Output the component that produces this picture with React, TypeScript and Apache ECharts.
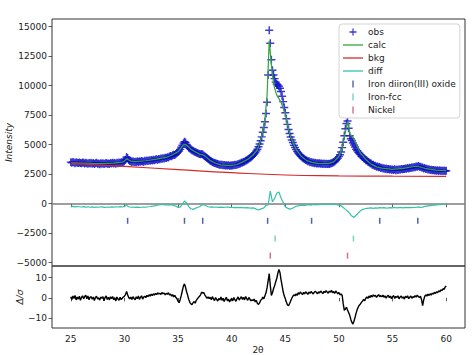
import React, { useEffect, useRef } from 'react';
import * as echarts from 'echarts';

// ---------- data ----------
const OBS_START = 25;
const OBS_STEP = 0.1;
const obs = [
  3520, 3460, 3540, 3480, 3430, 3510, 3470, 3440, 3500, 3450,
  3420, 3490, 3460, 3400, 3470, 3430, 3380, 3450, 3410, 3470,
  3390, 3440, 3370, 3420, 3460, 3380, 3410, 3350, 3430, 3390,
  3420, 3360, 3400, 3450, 3380, 3410, 3370, 3440, 3400, 3460,
  3410, 3450, 3390, 3470, 3430, 3480, 3450, 3520, 3490, 3560,
  3600, 3720, 3950, 3880, 3710, 3620, 3580, 3540, 3590, 3530,
  3560, 3520, 3590, 3540, 3600, 3560, 3620, 3580, 3550, 3630,
  3600, 3650, 3620, 3680, 3640, 3700, 3660, 3720, 3690, 3740,
  3760, 3720, 3790, 3760, 3820, 3800, 3860, 3830, 3900, 3880,
  3940, 3920, 3990, 4040, 4020, 4100, 4150, 4130, 4220, 4290,
  4380, 4460, 4600, 4780, 4960, 5130, 5250, 5180, 5020, 4880,
  4750, 4680, 4590, 4520, 4480, 4420, 4380, 4330, 4290, 4250,
  4220, 4180, 4200, 4160, 4090, 4030, 3960, 3880, 3790, 3720,
  3640, 3590, 3530, 3490, 3450, 3420, 3380, 3360, 3330, 3310,
  3290, 3300, 3260, 3280, 3240, 3260, 3230, 3250, 3220, 3240,
  3230, 3260, 3250, 3290, 3280, 3320, 3350, 3380, 3410, 3460,
  3500, 3540, 3580, 3630, 3690, 3740, 3800, 3870, 3940, 4020,
  4110, 4210, 4320, 4460, 4620, 4830, 5060, 5330, 5660, 6050,
  6450, 6950, 7650, 8600, 10900, 14700, 13600, 12200, 11300, 10900,
  10600, 10300, 10150, 10050, 9950, 9780, 9500, 9100, 8650, 8150,
  7700, 7200, 6720, 6280, 5950, 5650, 5400, 5180, 4960, 4760,
  4580, 4430, 4300, 4180, 4080, 3990, 3900, 3830, 3760, 3700,
  3650, 3590, 3590, 3520, 3530, 3470, 3490, 3430, 3460, 3400,
  3430, 3400, 3420, 3380, 3410, 3370, 3400, 3360, 3390, 3370,
  3380, 3360, 3400, 3420, 3460, 3520, 3580, 3660, 3760, 3860,
  3990, 4150, 4380, 4750, 5200, 5750, 6350, 6800, 7000, 6400,
  5750, 5500, 5350, 5150, 4980, 4800, 4620, 4480, 4360, 4250,
  4160, 4020, 3970, 3850, 3810, 3690, 3660, 3550, 3520, 3420,
  3400, 3310, 3300, 3220, 3220, 3140, 3150, 3080, 3100, 3030,
  3050, 2990, 3010, 2950, 2980, 2920, 2950, 2900, 2920, 2870,
  2900, 2850, 2910, 2840, 2900, 2850, 2920, 2870, 2940, 2920,
  2950, 2930, 2980, 2960, 3020, 2990, 3050, 3020, 3080, 3050,
  3100, 3080, 3150, 3140, 3200, 3140, 3140, 3060, 3060, 2980,
  3020, 2940, 2960, 2890, 2910, 2860, 2880, 2830, 2860, 2810,
  2840, 2790, 2840, 2780, 2830, 2770, 2820, 2770, 2820, 2760,
  2790,
];

const calcX = [
  25, 26, 27, 28, 29, 29.8, 30.0, 30.2, 30.4, 30.7, 31, 32, 33, 34, 34.5,
  35, 35.3, 35.5, 35.6, 35.7, 35.9, 36.2, 36.5, 37, 37.3, 37.5, 38, 38.5, 39, 39.5,
  40, 40.5, 41, 41.5, 42, 42.3, 42.5, 42.7, 42.9, 43.1, 43.3, 43.4, 43.5, 43.6, 43.7,
  43.8, 43.9, 44.0, 44.2, 44.4, 44.6, 44.8, 45.0, 45.2, 45.4, 45.6, 45.8, 46.0, 46.5, 47,
  47.5, 48, 48.5, 49, 49.5, 50, 50.3, 50.5, 50.7, 50.8, 50.9, 51.0, 51.1, 51.3, 51.5,
  51.7, 52, 52.5, 53, 53.5, 54, 55, 56, 57, 57.3, 58, 59, 60,
];
const calc = [
  3470, 3440, 3410, 3400, 3430, 3520, 3600, 3800, 3700, 3580, 3560, 3640, 3780, 3950, 4150,
  4400, 4750, 4980, 5030, 5000, 4880, 4620, 4450, 4200, 4150, 4050, 3650, 3430, 3290, 3250,
  3250, 3320, 3520, 3760, 4130, 4450, 4850, 5400, 6150, 7200, 9200, 11500, 13800, 12800, 11800,
  10900, 10300, 9800, 9200, 8900, 8600, 8100, 7650, 6700, 5950, 5450, 5000, 4620, 4000, 3650,
  3500, 3420, 3390, 3390, 3540, 4020, 4700, 5600, 6600, 6950, 6500, 6000, 5800, 5650, 5300,
  4850, 4300, 3750, 3350, 3120, 3010, 2900, 2990, 3150, 3170, 3000, 2840, 2800,
];

const bkgX = [25, 30, 35, 40, 45, 50, 55, 60];
const bkg = [3420, 3160, 2890, 2630, 2430, 2365, 2330, 2310];

const DIFF_STEP = 0.2;
const diff = [
  -250, -230, -270, -240, -260,
  -280, -250, -290, -260, -300,
  -270, -310, -280, -300, -260,
  -290, -320, -280, -300, -270,
  -290, -260, -280, -250, -270,
  -240, -140, -260, -300, -280,
  -310, -290, -320, -300, -280,
  -300, -260, -240, -200, -180,
  -150, -110, -90, -70, -100,
  -80, -120, -90, -160, -200,
  -330, -280, -60, 230, 60,
  -250, -430, -480, -400, -320,
  -260, -110, -90, -180, -260,
  -290, -270, -300, -280, -310,
  -290, -320, -300, -280, -310,
  -300, -330, -310, -340, -320,
  -340, -360, -330, -350, -370,
  -350, -420, -520, -500, -420,
  -360, -150, -110, 1070, 160,
  450, 880, 1000, 480, 120,
  -250, -380, -460, -420, -330,
  -220, -180, -150, -120, -140,
  -110, -90, -120, -70, -100,
  -60, -80, -50, -70, -40,
  -60, -30, -70, -50, -90,
  -120, -180, -320, -480, -620,
  -820, -1050, -1160, -980, -800,
  -600, -500, -430, -400, -380,
  -360, -390, -350, -370, -340,
  -360, -330, -370, -350, -330,
  -350, -320, -360, -340, -330,
  -350, -320, -340, -310, -330,
  -320, -300, -270, -310, -290,
  -230, -200, -170, -160, -130,
  -120, -90, -80, -50, -30,
  0,
];

const delta = [
  0.5, -0.8, 0.9, -0.3, 1.2, -1.0, 0.4, -0.6, 0.8, -1.2,
  0.2, 1.0, -0.5, 0.7, 1.3, -0.4, 0.9, -0.9, 0.3, 0.6,
  -0.7, 0.4, -1.3, 0.2, 0.8, -0.6, 0.1, -1.1, 0.5, -0.3,
  0.6, -1.4, 0.2, 0.9, -0.8, 0.3, -1.0, 0.5, -0.4, 0.7,
  -0.9, 0.1, -1.5, 0.4, -0.6, -1.2, 0.3, -0.9, -0.2, 0.4,
  0.8, 1.6, 3.2, 1.5, 0.2, -0.5, 0.4, -0.8, 0.6, -0.3,
  -1.0, 0.5, -0.4, 0.9, -0.7, 0.2, 1.0, -0.6, 0.4, 0.8,
  0.1, 1.2, 0.6, 1.5, 0.9, 1.8, 1.1, 2.0, 1.4, 2.2,
  1.6, 2.5, 1.9, 2.3, 1.7, 2.6, 2.0, 2.4, 1.5, 2.2,
  1.8, 2.5, 1.4, 1.9, 0.8, 1.6, 0.5, 1.2, 0.2, -0.4,
  -1.6, -2.4, -0.8, 1.2, 3.5, 5.8, 6.9, 5.2, 3.0, 1.2,
  -0.8, -2.2, -3.0, -3.3, -2.4, -1.8, -2.6, -1.2, -0.5, 0.2,
  0.8, 1.5, 2.8, 2.4, 2.6, 1.4, 0.6, -0.2, 0.5, -0.4,
  0.3, -0.9, 0.6, -0.5, -1.3, 0.2, -0.8, -1.6, -0.3, -1.0,
  0.4, -1.2, -0.2, -1.8, -0.6, 0.3, -1.4, -0.7, -2.0, -0.9,
  -0.3, -1.5, 0.2, -0.9, -1.7, -0.4, 0.5, -1.1, -0.2, 0.6,
  -0.8, 0.3, -1.0, 0.7, -0.4, -1.2, 0.2, -0.6, -1.5, -0.9,
  -1.4, -0.6, -2.0, -1.3, -2.8, -3.2, -2.5, -1.2, -0.8, 0.4,
  -0.5, 1.0, 2.5, 5.0, 8.5, 11.9, 6.0, 1.2, 2.5, 4.5,
  6.0, 7.8, 9.5, 12.0, 14.0, 12.5, 9.0, 6.0, 3.0, 1.0,
  -0.5, -2.0, -3.5, -3.8, -2.8, -1.5, -0.2, 0.8, 1.5, 1.0,
  2.0, 1.2, 2.5, 1.8, 2.9, 2.2, 1.6, 2.7, 2.0, 3.0,
  2.4, 1.7, 2.9, 2.2, 3.1, 2.5, 1.9, 2.8, 3.3, 2.6,
  2.0, 3.0, 2.4, 3.4, 2.7, 2.1, 3.2, 2.6, 3.6, 2.9,
  2.3, 3.3, 2.8, 3.7, 2.5, 3.1, 2.2, 3.4, 2.7, 2.0,
  2.6, 1.5, 1.9, 1.2, -3.0, -6.2, -5.5, -4.6, -6.0, -7.2,
  -8.5, -10.5, -12.0, -12.9, -11.5, -9.6, -7.5, -5.8, -4.5, -3.6,
  -3.0, -2.2, -1.6, -0.8, -1.4, -0.2, 0.5, -0.3, 0.9, 0.2,
  1.2, 0.4, 1.5, 0.8, 1.3, 0.2, 1.0, 1.6, 0.6, 1.1,
  0.5, 1.4, 0.3, 1.0, -0.2, 0.8, 1.3, 0.1, 0.9, -0.4,
  0.6, 1.1, -0.3, 0.7, 0.2, 1.0, -0.5, 0.4, 0.9, -0.1,
  0.5, -0.6, 0.8, 0.1, 1.0, -0.4, 0.3, 0.9, -0.2, 0.6,
  0.2, 1.1, 0.4, 1.3, 0.7, 0.1, 0.8, -0.9, -3.8, -1.0,
  0.8, 1.5, 0.9, 1.8, 1.2, 2.0, 1.4, 2.3, 1.9, 2.7,
  2.2, 3.0, 2.6, 3.5, 3.0, 3.9, 3.6, 4.5, 4.2, 5.3,
  5.8,
];

// reflection tick positions
const magnetiteTicks = [30.3, 35.6, 37.3, 43.35, 47.45, 53.8, 57.35];
const ironFccTicks = [44.05, 51.35];
const nickelTicks = [43.6, 50.8];
const magnetiteLevel = -1450;
const ironFccLevel = -2950;
const nickelLevel = -4400;

const xTicks = [25, 30, 35, 40, 45, 50, 55, 60];
const yTicksTop = [-5000, -2500, 0, 2500, 5000, 7500, 10000, 12500, 15000];
const yTicksBottom = [-10, 0, 10];

const seriesNames = ['obs', 'calc', 'bkg', 'diff', 'Iron diiron(III) oxide', 'Iron-fcc', 'Nickel'];

// ---------- styling ----------
const FONT = 'DejaVu Sans';
const PLUS = 'path://M4.1,0 H5.9 V4.1 H10 V5.9 H5.9 V10 H4.1 V5.9 H0 V4.1 H4.1 Z';
const LINE_ICON = 'path://M0,0 H20 V1.3 H0 Z';
const BAR = 'path://M0,0 H1 V10 H0 Z';
const BAR_ICON = 'path://M0,0 H2 V10 H0 Z';

const C_OBS = '#0a0ac4';
const C_CALC = '#34a33a';
const C_BKG = '#d62a2a';
const C_DIFF = '#34c2a8';
const C_MAG = '#2b3a9c';
const C_FCC = '#5cc4b0';
const C_NI = '#cc4a66';

const fmt = (v: number) => (v < 0 ? '\u2212' + Math.abs(v) : String(v));

export default function App() {
  const ref = useRef<HTMLDivElement>(null);
  useEffect(() => {
    document.body.style.margin = '0';
    if (!ref.current) return;
    const chart = echarts.init(ref.current, undefined, { renderer: 'svg' });

    const obsData = obs.map((v, i) => [+(OBS_START + i * OBS_STEP).toFixed(2), v]);
    const calcData = calc.map((v, i) => [calcX[i], v]);
    const bkgData = bkg.map((v, i) => [bkgX[i], v]);
    const diffData = diff.map((v, i) => [+(OBS_START + i * DIFF_STEP).toFixed(2), v]);
    const deltaData = delta.map((v, i) => [+(OBS_START + i * OBS_STEP).toFixed(2), v]);

    const xBase = (gi: number, labels: boolean) => ({
      type: 'value',
      gridIndex: gi,
      min: 23.25,
      max: 61.75,
      axisLine: { show: false },
      splitLine: { show: false },
      axisTick: { show: true, customValues: xTicks, length: 3.5, lineStyle: { color: '#333', width: 0.8 } },
      axisLabel: {
        show: labels,
        customValues: xTicks,
        margin: 6,
        fontSize: 9,
        color: '#222',
        fontFamily: FONT,
      },
    });

    const tickSeries = (name: string, pos: number[], level: number, color: string) => ({
      name,
      type: 'scatter',
      xAxisIndex: 0,
      yAxisIndex: 0,
      data: pos.map((p) => [p, level]),
      symbol: BAR,
      symbolSize: [1.5, 6],
      itemStyle: { color },
      z: 4,
      silent: true,
    });

    chart.setOption({
      animation: false,
      textStyle: { fontFamily: FONT },
      grid: [
        { left: 52, right: 9, top: 19, height: 247, show: true, borderColor: '#333', borderWidth: 1, backgroundColor: 'transparent' },
        { left: 52, right: 9, top: 266, height: 62, show: true, borderColor: '#333', borderWidth: 1, backgroundColor: 'transparent' },
      ],
      xAxis: [xBase(0, false), xBase(1, true)],
      yAxis: [
        {
          type: 'value',
          gridIndex: 0,
          min: -5280,
          max: 15650,
          axisLine: { show: false },
          splitLine: { show: false },
          axisTick: { show: true, customValues: yTicksTop, length: 3.5, lineStyle: { color: '#333', width: 0.8 } },
          axisLabel: { customValues: yTicksTop, margin: 5, fontSize: 9, color: '#222', fontFamily: FONT, formatter: fmt },
        },
        {
          type: 'value',
          gridIndex: 1,
          min: -14.85,
          max: 15.7,
          axisLine: { show: false },
          splitLine: { show: false },
          axisTick: { show: true, customValues: yTicksBottom, length: 3.5, lineStyle: { color: '#333', width: 0.8 } },
          axisLabel: { customValues: yTicksBottom, margin: 5, fontSize: 9, color: '#222', fontFamily: FONT, formatter: fmt },
        },
      ],
      legend: {
        orient: 'vertical',
        left: 339,
        top: 24,
        padding: [3.5, 4, 3.5, 4],
        itemWidth: 20,
        itemHeight: 7,
        itemGap: 4,
        backgroundColor: 'rgba(255,255,255,0.85)',
        borderColor: '#d4d4d4',
        borderWidth: 1,
        borderRadius: 3,
        selectedMode: false,
        textStyle: { fontSize: 9, color: '#222', fontFamily: FONT },
        data: [
          { name: seriesNames[0], icon: PLUS },
          { name: seriesNames[1], icon: LINE_ICON },
          { name: seriesNames[2], icon: LINE_ICON },
          { name: seriesNames[3], icon: LINE_ICON },
          { name: seriesNames[4], icon: BAR_ICON },
          { name: seriesNames[5], icon: BAR_ICON },
          { name: seriesNames[6], icon: BAR_ICON },
        ],
      },
      graphic: [
        { type: 'text', x: 9, y: 142.5, rotation: Math.PI / 2, style: { text: 'Intensity', fontSize: 9, fontStyle: 'italic', fontFamily: FONT, fill: '#222', textAlign: 'center', textVerticalAlign: 'middle' } },
        { type: 'text', x: 20, y: 297, rotation: Math.PI / 2, style: { text: 'Δ/σ', fontSize: 9, fontStyle: 'italic', fontFamily: FONT, fill: '#222', textAlign: 'center', textVerticalAlign: 'middle' } },
        { type: 'text', x: 258, y: 350, style: { text: '2θ', fontSize: 9, fontFamily: FONT, fill: '#222', textAlign: 'center', textVerticalAlign: 'middle' } },
      ],
      series: [
        {
          name: seriesNames[0],
          type: 'scatter',
          xAxisIndex: 0,
          yAxisIndex: 0,
          data: obsData,
          symbol: PLUS,
          symbolSize: 8,
          itemStyle: { color: C_OBS },
          z: 2,
          silent: true,
        },
        {
          name: seriesNames[1],
          type: 'line',
          xAxisIndex: 0,
          yAxisIndex: 0,
          data: calcData,
          symbol: 'none',
          showSymbol: false,
          color: C_CALC,
          lineStyle: { color: C_CALC, width: 1.2 },
          z: 3,
          silent: true,
        },
        {
          name: seriesNames[2],
          type: 'line',
          xAxisIndex: 0,
          yAxisIndex: 0,
          data: bkgData,
          symbol: 'none',
          showSymbol: false,
          smooth: true,
          color: C_BKG,
          lineStyle: { color: C_BKG, width: 1.2 },
          z: 3,
          silent: true,
        },
        {
          name: seriesNames[3],
          type: 'line',
          xAxisIndex: 0,
          yAxisIndex: 0,
          data: diffData,
          symbol: 'none',
          showSymbol: false,
          color: C_DIFF,
          lineStyle: { color: C_DIFF, width: 1.2 },
          z: 3,
          silent: true,
          markLine: {
            silent: true,
            symbol: 'none',
            label: { show: false },
            lineStyle: { color: '#7e7e7e', width: 1.6, type: 'solid' },
            data: [{ yAxis: 0 }],
            z: 1,
          },
        },
        tickSeries(seriesNames[4], magnetiteTicks, magnetiteLevel, C_MAG),
        tickSeries(seriesNames[5], ironFccTicks, ironFccLevel, C_FCC),
        tickSeries(seriesNames[6], nickelTicks, nickelLevel, C_NI),
        {
          name: 'Δ/σ',
          type: 'line',
          xAxisIndex: 1,
          yAxisIndex: 1,
          data: deltaData,
          symbol: 'none',
          showSymbol: false,
          color: '#000',
          lineStyle: { color: '#000', width: 1.4 },
          silent: true,
        },
      ],
    });
    return () => chart.dispose();
  }, []);
  return <div ref={ref} style={{ width: 474, height: 355 }} />;
}
